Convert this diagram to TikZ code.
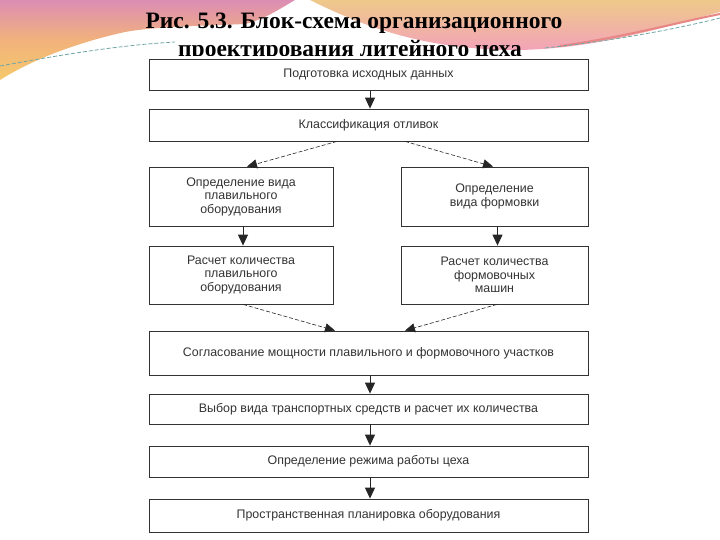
\documentclass[tikz,border=0pt]{standalone}
\usepackage{fontspec}
\setmainfont{Liberation Serif}
\newfontfamily\boxfont{Liberation Sans}
\usetikzlibrary{arrows.meta}
\definecolor{mauve}{HTML}{DC8DB4}
\definecolor{orng}{HTML}{F2B27C}
\definecolor{yel}{HTML}{F5C96A}
\definecolor{peach}{HTML}{EFC98A}
\definecolor{pinkb}{HTML}{F2A3B8}
\definecolor{salmon}{HTML}{E88585}
\definecolor{tealdash}{HTML}{6FA6A6}
\begin{document}
\begin{tikzpicture}[x=1pt,y=-1pt,
  blk/.style={draw=black!80, line width=0.8pt, fill=white, inner sep=0pt, align=center,
    font=\boxfont\fontsize{12.4}{13.5}\selectfont, text=black!80},
  solidarr/.style={line width=1pt, draw=black!85, -{Triangle[length=11pt,width=10pt]}},
  dasharr/.style={line width=0.6pt, draw=black!85, dash pattern=on 4pt off 2pt, -{Triangle[length=10pt,width=9pt]}},
  ttl/.style={font=\bfseries\fontsize{23.5}{28}\selectfont, text=black, inner sep=0pt, anchor=base}]
\useasboundingbox (0,0) rectangle (720,540);
\fill[white] (0,0) rectangle (720,540);
% decorative background band
\shade[top color=mauve, bottom color=yel, middle color=orng]
  (0,0) -- (295,0) .. controls (275,12) and (262,20) .. (245,24)
  .. controls (200,26) and (160,26) .. (125,32)
  .. controls (80,42) and (35,58) .. (0,80) -- cycle;
\shade[top color=peach, bottom color=pinkb]
  (310,0) -- (720,0) -- (720,12) .. controls (660,28) and (600,48) .. (520,50)
  .. controls (440,50) and (380,35) .. (310,0) -- cycle;
\draw[salmon, line width=2pt] (560,46) .. controls (620,38) and (680,22) .. (720,14);
\draw[tealdash, line width=0.8pt, dash pattern=on 4pt off 2pt] (0,66) .. controls (60,55) and (120,45) .. (175,42);
\draw[tealdash, line width=0.8pt, dash pattern=on 4pt off 2pt] (545,48) .. controls (620,40) and (680,28) .. (720,18);
% title
\node[ttl] (t1) at (354,29) {Рис. 5.3. Блок-схема организационного};
\node[ttl] (t2) at (350,57) {проектирования литейного цеха};
\fill[white] (140,56) rectangle (600,540);
% boxes
\node[blk, minimum width=439pt, minimum height=31pt] (b1) at (368.5,74.5) {Подготовка исходных данных};
\node[blk, minimum width=439pt, minimum height=32pt] (b2) at (368.5,125) {Классификация отливок};
\node[blk, minimum width=184pt, minimum height=59pt] (b3l) at (241,196.5) {Определение вида\\плавильного\\оборудования};
\node[blk, minimum width=187pt, minimum height=59pt] (b3r) at (494.5,196.5) {Определение\\вида формовки};
\node[blk, minimum width=184pt, minimum height=58pt] (b4l) at (241,275) {Расчет количества\\плавильного\\оборудования};
\node[blk, minimum width=187pt, minimum height=58pt] (b4r) at (494.5,275) {Расчет количества\\формовочных\\машин};
\node[blk, minimum width=439pt, minimum height=44pt] (b5) at (368.5,353) {Согласование мощности плавильного и формовочного участков};
\node[blk, minimum width=439pt, minimum height=30pt] (b6) at (368.5,409) {Выбор вида транспортных средств и расчет их количества};
\node[blk, minimum width=439pt, minimum height=31pt] (b7) at (368.5,461.5) {Определение режима работы цеха};
\node[blk, minimum width=439pt, minimum height=33pt] (b8) at (368.5,515.5) {Пространственная планировка оборудования};
% connectors
\draw[solidarr] ([xshift=1.5pt]b1.south) -- ([xshift=1.5pt]b2.north);
\draw[dasharr] ([xshift=-31.5pt]b2.south) -- ([xshift=6pt]b3l.north);
\draw[dasharr] ([xshift=36.5pt]b2.south) -- ([xshift=-1.5pt]b3r.north);
\draw[solidarr] ([xshift=2pt]b3l.south) -- ([xshift=2pt]b4l.north);
\draw[solidarr] ([xshift=3pt]b3r.south) -- ([xshift=3pt]b4r.north);
\draw[dasharr] ([xshift=2pt]b4l.south) -- ([xshift=-33.5pt]b5.north);
\draw[dasharr] ([xshift=2.5pt]b4r.south) -- ([xshift=36.5pt]b5.north);
\draw[solidarr] ([xshift=1.5pt]b5.south) -- ([xshift=1.5pt]b6.north);
\draw[solidarr] ([xshift=1.5pt]b6.south) -- ([xshift=1.5pt]b7.north);
\draw[solidarr] ([xshift=1.5pt]b7.south) -- ([xshift=1.5pt]b8.north);
\end{tikzpicture}
\end{document}
